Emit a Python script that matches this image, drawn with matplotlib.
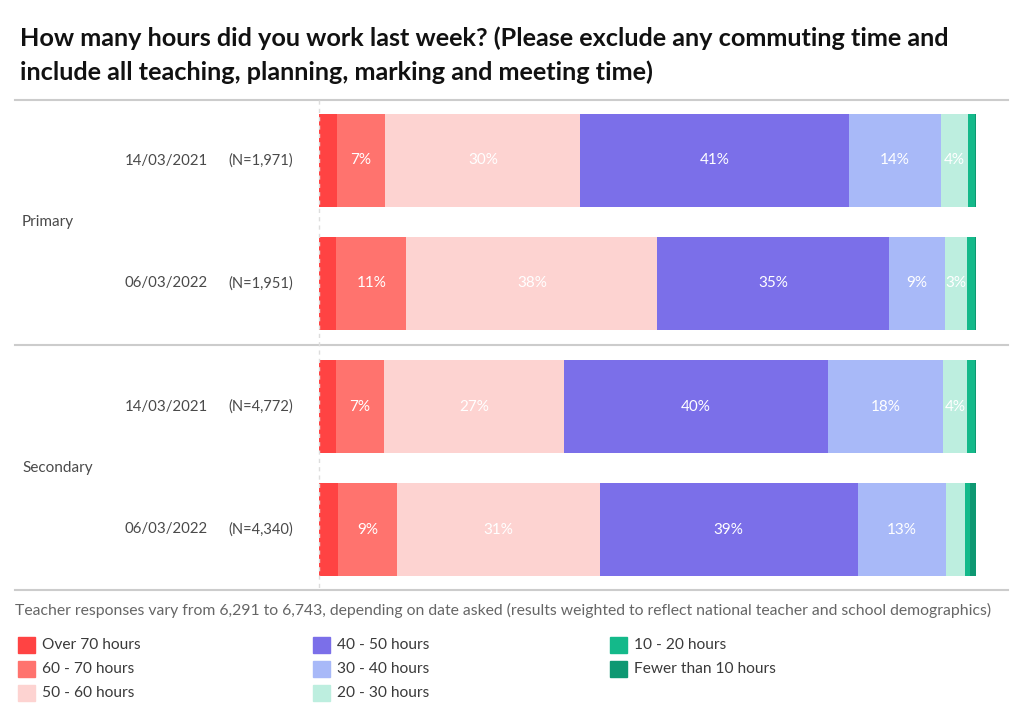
import numpy as np
import matplotlib
matplotlib.use("Agg")
import matplotlib.pyplot as plt
from matplotlib.patches import Rectangle
from matplotlib.lines import Line2D

# data (percent of respondents)
categories = ["Over 70 hours", "60 - 70 hours", "50 - 60 hours", "40 - 50 hours",
              "30 - 40 hours", "20 - 30 hours", "10 - 20 hours", "Fewer than 10 hours"]
colors = ["#FF4343", "#FF736E", "#FDD3D1", "#7B6FE9",
          "#A8B9F8", "#BDEEDF", "#14B98A", "#0E9872"]

groups = ["Primary", "Secondary"]
dates = ["14/03/2021", "06/03/2022", "14/03/2021", "06/03/2022"]
ns = ["(N=1,971)", "(N=1,951)", "(N=4,772)", "(N=4,340)"]

primary_2021 = [2.7, 7.4, 29.7, 40.9, 13.9, 4.2, 1.0, 0.2]
primary_2022 = [2.6, 10.7, 38.2, 35.2, 8.6, 3.3, 1.2, 0.2]
secondary_2021 = [2.6, 7.3, 27.4, 40.1, 17.6, 3.6, 1.2, 0.2]
secondary_2022 = [2.9, 9.0, 30.8, 39.3, 13.4, 2.9, 0.8, 0.9]
rows = [primary_2021, primary_2022, secondary_2021, secondary_2022]

W, H = 1024, 723
fig = plt.figure(figsize=(W / 100, H / 100), dpi=100)
plt.rcParams['font.family'] = ['Lato', 'DejaVu Sans']

def fx(px):
    return px / W

def fy(py):
    return 1 - py / H

# bar area
ax = fig.add_axes([fx(319), fy(590), fx(976) - fx(319), fy(100) - fy(590)])
ax.set_xlim(0, 100)
ax.set_ylim(3.49, -0.49)
ax.axis("off")

data = np.array(rows)
left = np.zeros(len(rows))
for j, cat in enumerate(categories):
    vals = data[:, j]
    ax.barh(range(len(rows)), vals, left=left, height=0.756, color=colors[j],
            edgecolor="none", label=cat)
    for i, v in enumerate(vals):
        if v >= 3 and j > 0:
            ax.text(left[i] + v / 2, i, f"{int(round(v))}%", ha="center", va="center",
                    color="white", fontsize=11)
    left += vals

# row labels
for i in range(len(rows)):
    fig.text(fx(166), fy(160.5 + 123 * i), dates[i], ha="center", va="center",
             fontsize=10.8, color="#4a4a4a")
    fig.text(fx(261), fy(160.5 + 123 * i), ns[i], ha="center", va="center",
             fontsize=10.5, color="#4a4a4a")

fig.text(fx(22), fy(222), groups[0], ha="left", va="center", fontsize=11, color="#4a4a4a")
fig.text(fx(22), fy(468), groups[1], ha="left", va="center", fontsize=11, color="#4a4a4a")

# separators
for yy in [100, 345, 590]:
    fig.add_artist(Line2D([fx(15), fx(1008)], [fy(yy), fy(yy)], color="#CCCCCC", lw=1.5))
fig.add_artist(Line2D([fx(319), fx(319)], [fy(100), fy(590)], color="#DDDDDD", lw=1,
                      linestyle=(0, (3, 3))))

# title
fig.text(fx(20), fy(38), "How many hours did you work last week? (Please exclude any commuting time and",
         ha="left", va="center", fontsize=18.2, fontweight="bold", color="#111111")
fig.text(fx(20), fy(72), "include all teaching, planning, marking and meeting time)",
         ha="left", va="center", fontsize=18.2, fontweight="bold", color="#111111")

# footnote
fig.text(fx(15), fy(610), "Teacher responses vary from 6,291 to 6,743, depending on date asked "
         "(results weighted to reflect national teacher and school demographics)",
         ha="left", va="center", fontsize=11.35, color="#666666")

# legend
col_x = [18, 313, 610]
row_y = [645, 669, 693]
order = [(0, 0), (0, 1), (0, 2), (1, 0), (1, 1), (1, 2), (2, 0), (2, 1)]
for k, (c, r) in enumerate(order):
    x0, y0 = col_x[c], row_y[r]
    fig.add_artist(Rectangle((fx(x0), fy(y0 + 8)), fx(17), 16 / H, color=colors[k],
                             transform=fig.transFigure))
    fig.text(fx(x0 + 24), fy(y0), categories[k], ha="left", va="center",
             fontsize=11.2, color="#3a3a3a")

fig.savefig("out.png", dpi=100, facecolor="white")
